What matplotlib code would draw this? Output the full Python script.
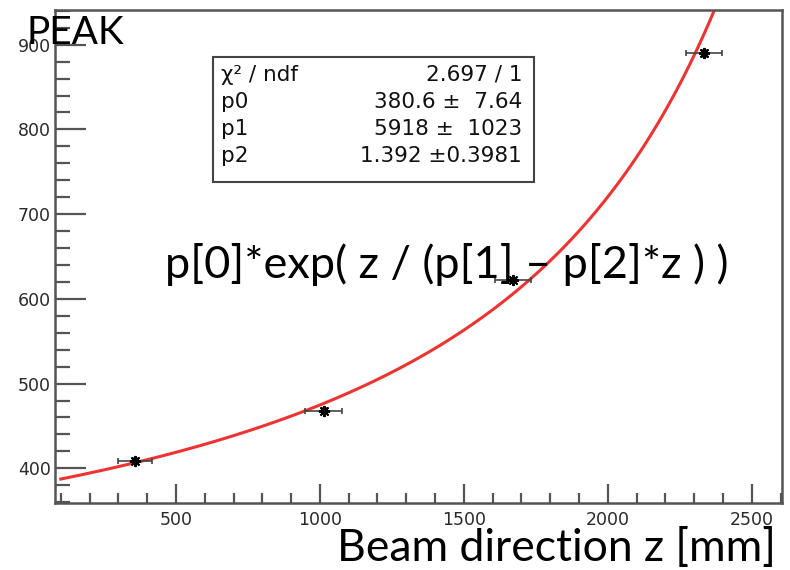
import numpy as np
import matplotlib
matplotlib.use("Agg")
import matplotlib.pyplot as plt
from matplotlib.ticker import MultipleLocator

# measured points (z in mm, peak position)
z = [358, 1013, 1671, 2333]
peak = [409, 468, 622, 890]
z_err = [60, 64, 62, 62]
peak_err = [3, 3, 3, 4]

# fit result shown in the stat box
p0, p1, p2 = 380.6, 5918.0, 1.392
stat_names = ["\u03c7\u00b2 / ndf", "p0", "p1", "p2"]
stat_values = ["2.697 / 1", "380.6 \u00b1  7.64", "5918 \u00b1  1023", "1.392 \u00b10.3981"]

W, H = 790, 570
fig = plt.figure(figsize=(W / 100, H / 100), dpi=100)

def fx(px):
    return px / W

def fy(py):
    return 1 - py / H

ax = fig.add_axes([fx(55), fy(503), fx(782) - fx(55), fy(10) - fy(503)])

frame_col = "#555555"
for s in ax.spines.values():
    s.set_color(frame_col)
    s.set_linewidth(1.8)

# fit curve
zz = np.linspace(100, 2400, 400)
ax.plot(zz, p0 * np.exp(zz / (p1 - p2 * zz)), color="#ee3333", lw=2.2, zorder=2)

ax.errorbar(z, peak, xerr=z_err, yerr=peak_err, fmt="none", ecolor="#444444",
            elinewidth=1.2, capsize=2.5, capthick=1.2, zorder=3)
ax.plot(z, peak, ls="none", marker=(8, 2, 0), ms=8, mec="black", mew=1.4, zorder=4)

ax.set_xlim(80, 2605)
ax.set_ylim(359, 941)
ax.xaxis.set_major_locator(MultipleLocator(500))
ax.xaxis.set_minor_locator(MultipleLocator(100))
ax.yaxis.set_major_locator(MultipleLocator(100))
ax.yaxis.set_minor_locator(MultipleLocator(20))
ax.tick_params(which="both", direction="in", color=frame_col, width=1.6,
               labelsize=12.5, labelcolor="#2a2a2a", top=False, right=False)
ax.tick_params(axis="y", which="major", length=22, pad=3)
ax.tick_params(axis="y", which="minor", length=11)
ax.tick_params(axis="x", which="major", length=14, pad=6)
ax.tick_params(axis="x", which="minor", length=7)
for lab in ax.get_xticklabels() + ax.get_yticklabels():
    lab.set_family("DejaVu Sans")

# stat box
box = plt.Rectangle((fx(213), fy(182)), fx(534) - fx(213), fy(57) - fy(182),
                    transform=fig.transFigure, fill=True, facecolor="white",
                    edgecolor="#444444", lw=1.5, zorder=5)
fig.patches.append(box)
row_y = [75, 102, 129, 156]
for name, val, ry in zip(stat_names, stat_values, row_y):
    fig.text(fx(221), fy(ry), name, fontsize=15.5, family="DejaVu Sans",
             va="center", ha="left", color="#111111", zorder=6)
    fig.text(fx(522), fy(ry), val, fontsize=15.5, family="DejaVu Sans",
             va="center", ha="right", color="#111111", zorder=6)

# overlay labels
fig.text(fx(26), fy(44), "PEAK", fontsize=28, family="Lato", ha="left", va="baseline")
fig.text(fx(165), fy(278), "p[0]*exp( z / (p[1] \u2013 p[2]*z ) )", fontsize=32.5,
         family="Lato", ha="left", va="baseline")
fig.text(fx(776), fy(561), "Beam direction z [mm]", fontsize=32, family="Lato",
         ha="right", va="baseline")

fig.savefig("out.png", dpi=100)
